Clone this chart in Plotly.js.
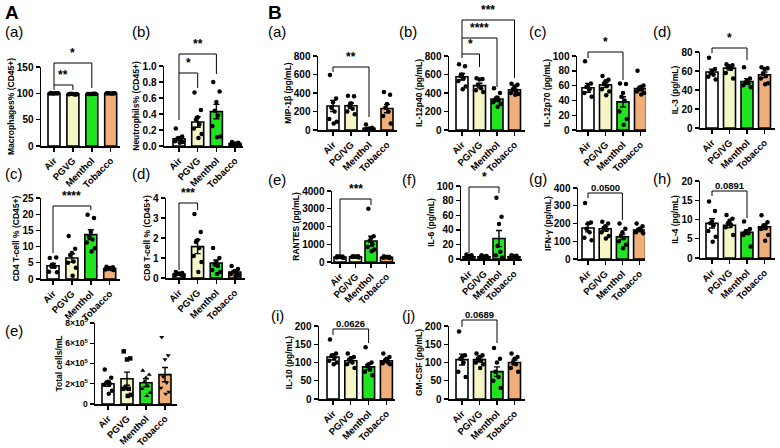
<!DOCTYPE html>
<html><head><meta charset="utf-8">
<script src="https://cdn.plot.ly/plotly-3.0.1.min.js"></script>
<style>html,body{margin:0;padding:0;background:#fff}#chart{width:780px;height:448px}</style>
</head><body><div id="chart"></div>
<script>
// ---------- DATA ----------
const groupsA = ["Air", "PGVG", "Menthol", "Tobacco"];
const groupsB = ["Air", "PG/VG", "Menthol", "Tobacco"];

// A(a) Macrophages% (CD45+)
const macroMean = [100, 98.5, 98.8, 100];
const macroSem = [0.3, 0.4, 0.3, 0.3];
const macroPts = [[100.5, 100, 99.8, 99.5, 100.2, 99.9, 100.1], [98.5, 98, 98.8, 99, 97.8, 98.4, 98.6], [98.8, 99, 98.5, 98.7, 99.2, 98.6, 98.9], [100, 100.3, 99.8, 100.1, 99.9, 100.2, 100]];
const macroTicks = [0, 50, 100, 150];

// A(b) Neutrophils% (CD45+)
const neutMean = [0.09, 0.30, 0.43, 0.03];
const neutSem = [0.02, 0.065, 0.09, 0.005];
const neutPts = [[0.22, 0.12, 0.10, 0.09, 0.08, 0.06, 0.05, 0.04], [0.67, 0.45, 0.36, 0.33, 0.27, 0.22, 0.15, 0.10], [0.80, 0.68, 0.55, 0.44, 0.38, 0.25, 0.12, 0.11], [0.05, 0.04, 0.03, 0.03, 0.02, 0.02, 0.02]];
const neutTicks = [0, 0.2, 0.4, 0.6, 0.8, 1.0];
const neutTickText = ["0.0", "0.2", "0.4", "0.6", "0.8", "1.0"];

// A(c) CD4 T-cell %
const cd4Mean = [4.1, 6.5, 13.7, 3.2];
const cd4Sem = [0.7, 1.3, 1.5, 0.2];
const cd4Pts = [[6.5, 6.6, 4.5, 4.0, 3.8, 2.2, 2.1], [13.3, 9.3, 8.0, 7.4, 5.4, 5.0, 3.5, 1.0], [19.8, 18.8, 14.5, 13.0, 12.2, 11.3, 9.5, 8.5], [3.8, 3.6, 3.4, 3.2, 3.0, 2.9, 2.8]];
const cd4Ticks = [0, 5, 10, 15, 20, 25];

// A(d) CD8 T-cell %
const cd8Mean = [0.2, 1.57, 0.75, 0.3];
const cd8Sem = [0.03, 0.35, 0.15, 0.06];
const cd8Pts = [[0.3, 0.25, 0.22, 0.2, 0.18, 0.15, 0.12], [3.2, 2.3, 1.9, 1.8, 1.5, 1.1, 0.8, 0.3], [1.5, 1.0, 0.8, 0.7, 0.6, 0.4, 0.3, 0.2], [0.6, 0.45, 0.35, 0.3, 0.25, 0.2, 0.15, 0.1]];
const cd8Ticks = [0, 1, 2, 3, 4];

// A(e) Total cells/mL
const totMean = [2.0e5, 2.5e5, 2.1e5, 2.9e5];
const totSem = [0.25e5, 0.65e5, 0.4e5, 0.7e5];
const totPts = [[3.4e5, 2.6e5, 2.2e5, 2.1e5, 2.0e5, 1.9e5, 1.3e5, 1.0e5], [5.2e5, 4.5e5, 4.4e5, 1.6e5, 1.5e5, 1.5e5, 0.9e5, 0.8e5], [3.3e5, 2.9e5, 2.6e5, 2.2e5, 1.8e5, 1.5e5, 1.1e5, 0.8e5], [6.6e5, 4.8e5, 4.4e5, 2.7e5, 2.1e5, 1.6e5, 1.2e5, 1.0e5]];
const totTicks = [0, 2e5, 4e5, 6e5, 8e5];
const totTickText = ["0", "2×10<sup>5</sup>", "4×10<sup>5</sup>", "6×10<sup>5</sup>", "8×10<sup>5</sup>"];

// B(a) MIP-1β
const mipMean = [260, 262, 18, 232];
const mipSem = [60, 30, 8, 45];
const mipPts = [[595, 340, 300, 240, 200, 120, 90, 70], [370, 365, 290, 260, 230, 200, 170], [60, 25, 15, 10, 8, 5, 5], [410, 380, 280, 240, 200, 150, 70]];
const mipTicks = [0, 200, 400, 600, 800];

// B(b) IL-12p40
const p40Mean = [575, 480, 335, 435];
const p40Sem = [35, 25, 20, 18];
const p40Pts = [[710, 690, 600, 580, 560, 530, 470, 440], [560, 550, 545, 490, 450, 430, 410], [450, 400, 350, 330, 320, 300, 280, 250], [500, 490, 470, 440, 420, 400, 390, 380]];
const p40Ticks = [0, 200, 400, 600, 800];

// B(c) IL-12p70
const p70Mean = [57, 61, 38, 56];
const p70Sem = [6, 3.5, 7, 3];
const p70Pts = [[93, 63, 60, 58, 55, 50, 45], [73, 68, 66, 62, 60, 55, 52, 47], [63, 62, 50, 45, 40, 25, 15, 7], [80, 60, 58, 56, 55, 52, 50, 48]];
const p70Ticks = [0, 20, 40, 60, 80, 100];

// B(d) IL-3
const il3Mean = [59, 63, 49, 56];
const il3Sem = [3, 2, 3, 3];
const il3Pts = [[74, 62, 60, 58, 56, 54, 51], [67, 66, 65, 64, 62, 58, 52], [64, 52, 50, 48, 47, 45, 43], [64, 63, 62, 57, 55, 52, 47, 46]];
const il3Ticks = [0, 20, 40, 60, 80];

// B(e) RANTES
const ranMean = [280, 300, 1180, 270];
const ranSem = [20, 20, 280, 20];
const ranPts = [[330, 310, 290, 280, 270, 250, 230], [330, 320, 310, 300, 290, 280, 260], [3000, 1450, 1350, 1200, 1000, 850, 700, 600], [320, 300, 280, 270, 260, 240, 220]];
const ranTicks = [0, 1000, 2000, 3000, 4000];

// B(f) IL-6
const il6Mean = [3, 3, 28, 3];
const il6Sem = [0.6, 0.5, 11, 0.5];
const il6Pts = [[6, 5, 4, 3, 2.5, 2, 1.5], [5, 4, 3.5, 3, 2.5, 2, 2], [84, 58, 48, 18, 10, 5, 2], [5, 4.5, 4, 3, 2.5, 2, 1.5]];
const il6Ticks = [0, 20, 40, 60, 80, 100];

// B(g) IFN-γ
const ifnMean = [175, 170, 125, 163];
const ifnSem = [22, 12, 15, 8];
const ifnPts = [[315, 205, 200, 170, 150, 120, 105], [210, 200, 185, 175, 165, 150, 130, 115], [200, 170, 150, 130, 120, 100, 80, 60], [200, 185, 170, 165, 160, 150, 145]];
const ifnTicks = [0, 100, 200, 300, 400];

// B(h) IL-4
const il4Mean = [9, 8.5, 6.7, 8.1];
const il4Sem = [1.2, 0.6, 0.6, 0.7];
const il4Pts = [[14.7, 12.2, 9.5, 9, 8.5, 7, 5.5, 4.2], [11.2, 10.2, 9.7, 9, 8.5, 8, 6], [9.5, 7.5, 7, 6.8, 6.5, 6, 3], [11.1, 9.3, 8.5, 8.2, 8, 7.5, 6, 4.5]];
const il4Ticks = [0, 5, 10, 15, 20];

// B(i) IL-10
const il10Mean = [115, 105, 88, 105];
const il10Sem = [8, 5, 8, 4];
const il10Pts = [[163, 125, 120, 118, 112, 105, 100, 95], [125, 115, 112, 108, 100, 95, 85], [142, 100, 95, 90, 80, 75, 65], [125, 115, 110, 105, 100, 98, 95]];
const il10Ticks = [0, 50, 100, 150, 200];

// B(j) GM-CSF
const gmMean = [108, 108, 75, 100];
const gmSem = [15, 6, 13, 7];
const gmPts = [[185, 120, 115, 110, 100, 75, 60], [125, 120, 115, 110, 105, 100, 95, 85], [140, 110, 100, 75, 60, 50, 30], [125, 115, 110, 100, 95, 85, 75]];
const gmTicks = [0, 50, 100, 150, 200];

// ---------- STYLE / LAYOUT ----------
const W = 780, H = 448;
const FONT = "Liberation Sans, Arial, sans-serif";
const barColors = ["#ffffff", "#f5f6c6", "#1fe41f", "#f0ae78"];
const circles = ["circle", "circle", "circle", "circle"];
const mixedSymbols = ["circle", "square", "triangle-up", "triangle-down"];
const jitter = [-0.17, 0.17, 0, -0.09, 0.09, -0.21, 0.21, 0.04, -0.04];

const panels = [
  {key: "Aa", title: "Macrophages% (CD45+)", cats: groupsA, mean: macroMean, sem: macroSem, pts: macroPts, ticks: macroTicks, tickText: null, sym: circles},
  {key: "Ab", title: "Neutrophils% (CD45+)", cats: groupsA, mean: neutMean, sem: neutSem, pts: neutPts, ticks: neutTicks, tickText: neutTickText, sym: circles},
  {key: "Ac", title: "CD4 T-cell % (CD45+)", cats: groupsA, mean: cd4Mean, sem: cd4Sem, pts: cd4Pts, ticks: cd4Ticks, tickText: null, sym: circles},
  {key: "Ad", title: "CD8 T-cell % (CD45+)", cats: groupsA, mean: cd8Mean, sem: cd8Sem, pts: cd8Pts, ticks: cd8Ticks, tickText: null, sym: circles},
  {key: "Ae", title: "Total cells/mL", cats: groupsA, mean: totMean, sem: totSem, pts: totPts, ticks: totTicks, tickText: totTickText, sym: mixedSymbols, tickSize: 8.5},
  {key: "Ba", title: "MIP-1β (pg/mL)", cats: groupsB, mean: mipMean, sem: mipSem, pts: mipPts, ticks: mipTicks, tickText: null, sym: circles},
  {key: "Bb", title: "IL-12p40 (pg/mL)", cats: groupsB, mean: p40Mean, sem: p40Sem, pts: p40Pts, ticks: p40Ticks, tickText: null, sym: circles},
  {key: "Bc", title: "IL-12p70 (pg/mL)", cats: groupsB, mean: p70Mean, sem: p70Sem, pts: p70Pts, ticks: p70Ticks, tickText: null, sym: circles},
  {key: "Bd", title: "IL-3 (pg/mL)", cats: groupsB, mean: il3Mean, sem: il3Sem, pts: il3Pts, ticks: il3Ticks, tickText: null, sym: circles},
  {key: "Be", title: "RANTES (pg/mL)", cats: groupsB, mean: ranMean, sem: ranSem, pts: ranPts, ticks: ranTicks, tickText: null, sym: circles},
  {key: "Bf", title: "IL-6 (pg/mL)", cats: groupsB, mean: il6Mean, sem: il6Sem, pts: il6Pts, ticks: il6Ticks, tickText: null, sym: circles},
  {key: "Bg", title: "IFN-γ (pg/mL)", cats: groupsB, mean: ifnMean, sem: ifnSem, pts: ifnPts, ticks: ifnTicks, tickText: null, sym: circles},
  {key: "Bh", title: "IL-4 (pg/mL)", cats: groupsB, mean: il4Mean, sem: il4Sem, pts: il4Pts, ticks: il4Ticks, tickText: null, sym: circles},
  {key: "Bi", title: "IL-10 (pg/mL)", cats: groupsB, mean: il10Mean, sem: il10Sem, pts: il10Pts, ticks: il10Ticks, tickText: null, sym: circles},
  {key: "Bj", title: "GM-CSF (pg/mL)", cats: groupsB, mean: gmMean, sem: gmSem, pts: gmPts, ticks: gmTicks, tickText: null, sym: circles}
];

// pixel geometry: L=left axis, C0=first category centre, S=category spacing, R=right end, zero=y of 0, top=y of max tick
const geo = {
  Aa: {L: 41, C0: 54, S: 18.9, R: 120, zero: 146, top: 67},
  Ab: {L: 164, C0: 179, S: 18.7, R: 243, zero: 146, top: 66},
  Ac: {L: 41, C0: 53, S: 18.9, R: 120, zero: 279, top: 198},
  Ad: {L: 166, C0: 179, S: 18.6, R: 245, zero: 278, top: 198},
  Ae: {L: 95, C0: 108, S: 19, R: 177, zero: 404, top: 323},
  Ba: {L: 318, C0: 333, S: 18, R: 397, zero: 130, top: 56},
  Bb: {L: 449, C0: 462, S: 17.5, R: 525, zero: 130, top: 56},
  Bc: {L: 577, C0: 588, S: 17.5, R: 646, zero: 130, top: 56},
  Bd: {L: 700, C0: 712, S: 17.5, R: 775, zero: 128, top: 52},
  Be: {L: 332, C0: 340, S: 15.5, R: 395, zero: 262, top: 191},
  Bf: {L: 461, C0: 469, S: 15, R: 522, zero: 259, top: 186},
  Bg: {L: 578, C0: 588, S: 17.2, R: 645, zero: 259, top: 188},
  Bh: {L: 700, C0: 712, S: 17.5, R: 775, zero: 258, top: 181},
  Bi: {L: 319, C0: 333, S: 17.8, R: 395, zero: 399, top: 326},
  Bj: {L: 449, C0: 462, S: 17.5, R: 525, zero: 399, top: 326}
};

// brackets: [from, to, bar y px, left leg bottom px, right leg bottom px, label]
const brackets = {
  Aa: [[0, 1, 85, 90, 90, "**"], [0, 2, 63, 85, 88, "*"]],
  Ab: [[0, 1, 73, 120, 88, "*"], [0, 2, 54, 73, 74, "**"]],
  Ac: [[0, 2, 206, 253, 210, "****"]],
  Ad: [[0, 1, 203, 270, 210, "***"]],
  Ba: [[0, 2, 67, 72, 117, "**"]],
  Bb: [[0, 1, 54, 58, 67, "*"], [0, 2, 38, 54, 87, "****"], [0, 3, 20, 38, 78, "***"]],
  Bc: [[0, 2, 52, 58, 80, "*"]],
  Bd: [[0, 2, 48, 53, 60, "*"]],
  Be: [[0, 2, 199, 255, 205, "***"]],
  Bf: [[0, 2, 187, 253, 193, "*"]],
  Bg: [[0, 2, 193, 198, 220, "0.0500"]],
  Bh: [[0, 2, 191, 196, 218, "0.0891"]],
  Bi: [[0, 2, 329, 335, 343, "0.0626"]],
  Bj: [[0, 2, 320, 327, 343, "0.0689"]]
};

const panelLabels = [
  ["A", 3, 12, true], ["B", 266, 12, true],
  ["(a)", 3, 31], ["(b)", 130, 31], ["(c)", 3, 173], ["(d)", 130, 173], ["(e)", 3, 330],
  ["(a)", 266, 31], ["(b)", 397, 31], ["(c)", 527, 31], ["(d)", 651, 31],
  ["(e)", 266, 179], ["(f)", 400, 179], ["(g)", 527, 178], ["(h)", 651, 178],
  ["(i)", 269, 315], ["(j)", 400, 315]
];

// ---------- BUILD ----------
const traces = [];
const layout = {
  width: W, height: H, margin: {l: 0, r: 0, t: 0, b: 0},
  paper_bgcolor: "#fff", plot_bgcolor: "rgba(0,0,0,0)",
  showlegend: false, font: {family: FONT, color: "#000"},
  shapes: [], annotations: []
};
const py = p => 1 - p / H;

panels.forEach((p, i) => {
  const n = i + 1;
  const xa = "x" + n, ya = "y" + n;
  const g = geo[p.key];
  const idx = p.cats.map((c, k) => k);
  traces.push({
    type: "bar", x: idx, y: p.mean, xaxis: xa, yaxis: ya, width: 12 / g.S,
    marker: {color: barColors, line: {color: "#000", width: 1.6}},
    error_y: {type: "data", array: p.sem, visible: true, color: "#000", thickness: 1.4, width: 3},
    hoverinfo: "skip"
  });
  const px = [], pyv = [], syms = [];
  p.pts.forEach((grp, k) => grp.forEach((v, j) => {
    px.push(k + jitter[j % jitter.length]); pyv.push(v); syms.push(p.sym[k]);
  }));
  traces.push({
    type: "scatter", mode: "markers", x: px, y: pyv, xaxis: xa, yaxis: ya,
    marker: {color: "#000", size: 4.5, symbol: syms}, cliponaxis: false, hoverinfo: "skip"
  });
  const axn = n === 1 ? "" : n;
  layout["xaxis" + axn] = {
    domain: [g.L / W, g.R / W], range: [(g.L - g.C0) / g.S, (g.R - g.C0) / g.S], anchor: ya,
    tickmode: "array", tickvals: idx, ticktext: p.cats, tickangle: -45,
    ticks: "outside", ticklen: 4, tickwidth: 1.4, tickcolor: "#000",
    showline: true, linewidth: 1.5, linecolor: "#000", showgrid: false, zeroline: false,
    tickfont: {family: FONT, size: 9.5, weight: "bold", color: "#000"}, fixedrange: true
  };
  layout["yaxis" + axn] = {
    domain: [py(g.zero), py(g.top)], range: [0, p.ticks[p.ticks.length - 1]], anchor: xa,
    tickmode: "array", tickvals: p.ticks, ticktext: p.tickText || p.ticks.map(String),
    ticks: "outside", ticklen: 4, tickwidth: 1.4, tickcolor: "#000",
    showline: true, linewidth: 1.5, linecolor: "#000", showgrid: false, zeroline: false,
    tickfont: {family: FONT, size: p.tickSize || 10, weight: "bold", color: "#000"},
    title: {text: p.title, font: {family: FONT, size: 8.5, weight: "bold", color: "#000"}, standoff: 1},
    fixedrange: true
  };
  (brackets[p.key] || []).forEach(b => {
    const [a, c, yb, yl, yr, lab] = b;
    const ln = {color: "#000", width: 1};
    layout.shapes.push({type: "line", xref: xa, yref: "paper", x0: a, x1: a, y0: py(yl), y1: py(yb), line: ln});
    layout.shapes.push({type: "line", xref: xa, yref: "paper", x0: a, x1: c, y0: py(yb), y1: py(yb), line: ln});
    layout.shapes.push({type: "line", xref: xa, yref: "paper", x0: c, x1: c, y0: py(yb), y1: py(yr), line: ln});
    const isStar = lab.indexOf("*") >= 0;
    layout.annotations.push({
      xref: xa, yref: "paper", x: (a + c) / 2, y: py(yb - (isStar ? 1 : 6)),
      yanchor: isStar ? "bottom" : "middle", xanchor: "center", showarrow: false, text: lab,
      font: {family: FONT, size: isStar ? 12 : 9.5, weight: "bold", color: "#000"}
    });
  });
});

panelLabels.forEach(l => {
  layout.annotations.push({
    xref: "paper", yref: "paper", x: l[1] / W, y: py(l[2]), xanchor: "left", yanchor: "middle",
    showarrow: false, text: l[0],
    font: {family: FONT, size: l[3] ? 19 : 15, weight: l[3] ? "bold" : "normal", color: "#000"}
  });
});

Plotly.newPlot("chart", traces, layout, {staticPlot: true, displayModeBar: false});
</script>
</body></html>
